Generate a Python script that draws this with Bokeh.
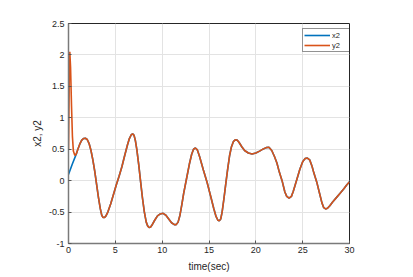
from bokeh.plotting import figure
from bokeh.models import FixedTicker, Legend, LegendItem, Range1d
from bokeh.embed import file_html
from bokeh.resources import INLINE

# ---- data ----
t_common = [0.85, 1.0, 1.2, 1.4, 1.6, 1.8, 2.0, 2.2, 2.4, 2.6, 2.8, 3.0, 3.2, 3.4, 3.55,
            3.7, 3.85, 4.0, 4.2, 4.5, 4.8, 5.1, 5.4, 5.7, 6.0, 6.3, 6.5, 6.7, 6.85, 7.0,
            7.15, 7.3, 7.5, 7.7, 7.9, 8.1, 8.3, 8.45, 8.6, 8.75, 8.9, 9.2, 9.5, 9.8,
            10.1, 10.4, 10.7, 11.0, 11.3, 11.5, 11.7, 11.9, 12.1, 12.3, 12.6, 12.9,
            13.15, 13.35, 13.55, 13.75, 14.0, 14.4, 14.8, 15.2, 15.5, 15.75, 15.95,
            16.1, 16.25, 16.4, 16.6, 16.8, 17.0, 17.2, 17.4, 17.6, 17.8, 18.0, 18.2,
            18.5, 18.8, 19.2, 19.6, 20.0, 20.4, 20.8, 21.1, 21.4, 21.7, 22.0, 22.25,
            22.5, 22.8, 23.1, 23.3, 23.55, 23.8, 24.0, 24.4, 24.7, 25.0, 25.25, 25.5,
            25.75, 26.0, 26.2, 26.5, 26.8, 27.05, 27.25, 27.45, 27.65, 27.9, 28.2, 28.6,
            29.0, 29.4, 29.7, 30.0]
v_common = [0.43, 0.50, 0.58, 0.64, 0.67, 0.675, 0.655, 0.59, 0.48, 0.33, 0.15, -0.06,
            -0.27, -0.45, -0.55, -0.587, -0.585, -0.56, -0.50, -0.37, -0.22, -0.07, 0.07,
            0.22, 0.40, 0.57, 0.67, 0.73, 0.745, 0.72, 0.63, 0.49, 0.25, -0.02, -0.28,
            -0.50, -0.66, -0.72, -0.745, -0.74, -0.71, -0.63, -0.56, -0.53, -0.52, -0.55,
            -0.61, -0.67, -0.70, -0.70, -0.66, -0.55, -0.38, -0.20, 0.03, 0.26, 0.42,
            0.50, 0.52, 0.49, 0.38, 0.17, -0.03, -0.26, -0.44, -0.57, -0.63, -0.64,
            -0.61, -0.50, -0.28, -0.04, 0.19, 0.40, 0.54, 0.62, 0.65, 0.645, 0.61, 0.54,
            0.48, 0.44, 0.425, 0.44, 0.47, 0.505, 0.525, 0.53, 0.48, 0.38, 0.28, 0.14,
            0.0, -0.18, -0.25, -0.28, -0.25, -0.17, 0.03, 0.18, 0.30, 0.35, 0.36, 0.33,
            0.23, 0.12, -0.02, -0.20, -0.35, -0.43, -0.45, -0.44, -0.40, -0.34, -0.27,
            -0.20, -0.13, -0.07, -0.02]

t_x2_start = [0.0, 0.4]
v_x2_start = [0.10, 0.26]
t_y2_start = [0.0, 0.08, 0.14, 0.22, 0.32, 0.42, 0.52, 0.68]
v_y2_start = [0.50, 1.60, 2.05, 1.80, 1.20, 0.70, 0.47, 0.40]

x2_t = t_x2_start + t_common
x2_v = v_x2_start + v_common
y2_t = t_y2_start + t_common
y2_v = v_y2_start + v_common

x_ticks = [0, 5, 10, 15, 20, 25, 30]
y_ticks = [-1, -0.5, 0, 0.5, 1, 1.5, 2, 2.5]
y_tick_labels = ["-1", "-0.5", "0", "0.5", "1", "1.5", "2", "2.5"]
series_names = ["x2", "y2"]
series_colors = ["#0072BD", "#D95319"]

FONT = "Liberation Sans"
TXT = "#262626"

p = figure(width=405, height=274, output_backend="svg", toolbar_location=None,
           x_range=Range1d(0, 30), y_range=Range1d(-1, 2.5),
           min_border_left=68, min_border_right=56, min_border_top=23,
           min_border_bottom=29, x_axis_label="time(sec)", y_axis_label="x2, y2")
p.background_fill_color = "white"
p.border_fill_color = "white"
p.outline_line_color = "#262626"
p.outline_line_width = 1

r1 = p.line(x2_t, x2_v, line_color=series_colors[0], line_width=1.6)
r2 = p.line(y2_t, y2_v, line_color=series_colors[1], line_width=1.6)

for g in (p.xgrid[0], p.ygrid[0]):
    g.grid_line_color = "#e3e3e3"
    g.grid_line_width = 1
p.xgrid[0].ticker = FixedTicker(ticks=x_ticks)
p.ygrid[0].ticker = FixedTicker(ticks=y_ticks)

xa = p.xaxis[0]
ya = p.yaxis[0]
xa.ticker = FixedTicker(ticks=x_ticks)
ya.ticker = FixedTicker(ticks=y_ticks)
overrides = {}
for k, s in zip(y_ticks, y_tick_labels):
    overrides[float(k)] = s
    if float(k).is_integer():
        overrides[int(k)] = s
ya.major_label_overrides = overrides
for ax in (xa, ya):
    ax.axis_line_color = "#7a7a7a"
    ax.axis_line_width = 1.5
    ax.major_tick_line_color = "#555555"
    ax.major_tick_in = 3
    ax.major_tick_out = 0
    ax.minor_tick_line_color = None
    ax.major_label_text_font = FONT
    ax.major_label_text_font_size = "9px"
    ax.major_label_text_color = TXT
    ax.axis_label_text_font = FONT
    ax.axis_label_text_font_size = "10px"
    ax.axis_label_text_font_style = "normal"
    ax.axis_label_text_color = TXT
xa.major_label_standoff = 3
xa.axis_label_standoff = 5
ya.major_label_standoff = 4
ya.axis_label_standoff = 3

legend = Legend(items=[LegendItem(label=series_names[0], renderers=[r1]),
                       LegendItem(label=series_names[1], renderers=[r2])],
                location=(234, 191))
legend.label_text_font = FONT
legend.label_text_font_size = "7.5px"
legend.label_text_color = TXT
legend.glyph_width = 26
legend.glyph_height = 10
legend.label_height = 10
legend.label_standoff = 2
legend.spacing = 0
legend.padding = 1
legend.margin = 0
legend.border_line_color = "#262626"
legend.border_line_width = 1
legend.background_fill_color = "white"
legend.background_fill_alpha = 1
p.add_layout(legend, "center")

open("out.html", "w").write(file_html(p, INLINE))
